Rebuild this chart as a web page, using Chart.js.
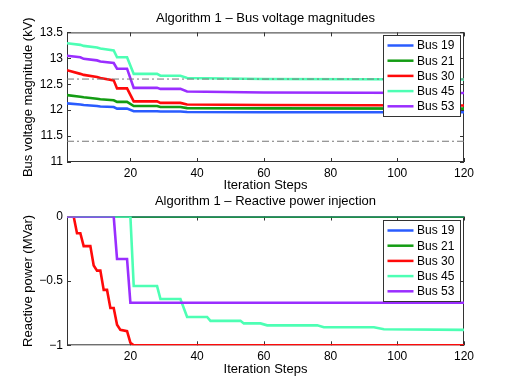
<!DOCTYPE html>
<html>
<head>
<meta charset="utf-8">
<script src="https://cdn.jsdelivr.net/npm/chart.js@4.4.0/dist/chart.umd.min.js"></script>
<style>
  html, body { margin: 0; padding: 0; background: #fff; }
  #wrap { position: relative; width: 512px; height: 389px; }
  canvas { position: absolute; left: 0; }
  #c-volt { top: 0; }
  #c-q    { top: 194px; }
</style>
</head>
<body>
<div id="wrap">
  <canvas id="c-volt" width="512" height="194"></canvas>
  <canvas id="c-q" width="512" height="195"></canvas>
</div>
<script>
// ── DATA ───────────────────────────────────────────────────────────────────

const BUSES = ['Bus 19', 'Bus 21', 'Bus 30', 'Bus 45', 'Bus 53'];

// Voltage magnitudes (kV) — corner points of the step curves
const vSteps = [1, 5, 6, 10, 11, 15, 16, 19, 21, 28, 29, 35, 37, 60, 120];
const vBus19 = [12.13, 12.11, 12.10, 12.08, 12.07, 12.06, 12.03, 12.03, 11.98, 11.98, 11.975, 11.975, 11.965, 11.96, 11.96];
const vBus21 = [12.29, 12.26, 12.25, 12.22, 12.21, 12.19, 12.16, 12.16, 12.08, 12.08, 12.06, 12.06, 12.04, 12.035, 12.03];
const vBus30 = [12.77, 12.70, 12.68, 12.64, 12.62, 12.575, 12.42, 12.42, 12.17, 12.17, 12.14, 12.14, 12.11, 12.10, 12.09];
const vBus45 = [13.29, 13.26, 13.24, 13.21, 13.19, 13.15, 13.02, 13.02, 12.70, 12.70, 12.665, 12.665, 12.62, 12.60, 12.59];
const vBus53 = [13.05, 13.02, 12.99, 12.96, 12.94, 12.91, 12.80, 12.80, 12.43, 12.43, 12.41, 12.41, 12.36, 12.34, 12.33];
const vLimits = [11.4, 12.6];

// Reactive power injection (MVar)
const qStepsFlat  = [1, 120];
const qBus19      = [0, 0];
const qBus21      = [0, 0];
const qStepsBus30 = [1, 3, 4, 5, 6, 8, 9, 10, 11, 12, 13, 14, 15, 16, 17, 19, 20, 21, 120];
const qBus30      = [0, 0, -0.13, -0.13, -0.23, -0.23, -0.38, -0.42, -0.42, -0.57, -0.57, -0.71, -0.71, -0.84, -0.88, -0.89, -0.98, -1, -1];
const qStepsBus45 = [1, 20, 21, 28, 29, 35, 37, 43, 44, 53, 54, 59, 61, 76, 78, 93, 96, 120];
const qBus45      = [0, 0, -0.54, -0.54, -0.64, -0.64, -0.78, -0.78, -0.81, -0.81, -0.83, -0.83, -0.845, -0.845, -0.86, -0.86, -0.875, -0.88];
const qStepsBus53 = [1, 15, 16, 19, 20, 120];
const qBus53      = [0, 0, -0.33, -0.33, -0.67, -0.67];

// Axis ticks
const xTicks     = [20, 40, 60, 80, 100, 120];
const vTicks     = [11, 11.5, 12, 12.5, 13, 13.5];
const qTicks     = [-1, -0.5, 0];

// ── STYLE ──────────────────────────────────────────────────────────────────

const BUS_COLORS = ['#2a5cff', '#139c13', '#ff0a0a', '#4dffb4', '#9a2eff'];
const AXIS_COLOR = '#333333';
const LIMIT_COLOR = '#777777';
const FONT_FAMILY = '"Liberation Sans", Arial, Helvetica, sans-serif';
const TICK_STYLE = { color: '#000', font: { family: FONT_FAMILY, size: 12 }, padding: 4 };
const LABEL_FONT = { family: FONT_FAMILY, size: 13, weight: 'normal' };

let cVolt = null;
let cQ    = null;

const pts = (xs, ys) => xs.map((x, i) => ({ x, y: ys[i] }));
const fmtTick = v => String(v).replace('-', '\u2212');

// ── PLUGINS ────────────────────────────────────────────────────────────────

// MATLAB-ish axes box with inward tick marks on all four sides
const boxPlugin = {
  id: 'matlabBox',
  beforeDatasetsDraw(chart) {
    const { ctx, chartArea: a, scales: { x, y } } = chart;
    const tl = 4;
    ctx.save();
    ctx.strokeStyle = AXIS_COLOR;
    ctx.lineWidth = 1;
    ctx.strokeRect(a.left + 0.5, a.top + 0.5, a.right - a.left - 1, a.bottom - a.top - 1);
    ctx.beginPath();
    x.ticks.forEach(t => {
      const px = Math.round(x.getPixelForValue(t.value)) + 0.5;
      ctx.moveTo(px, a.bottom); ctx.lineTo(px, a.bottom - tl);
      ctx.moveTo(px, a.top);    ctx.lineTo(px, a.top + tl);
    });
    y.ticks.forEach(t => {
      const py = Math.round(y.getPixelForValue(t.value)) + 0.5;
      ctx.moveTo(a.left, py);  ctx.lineTo(a.left + tl, py);
      ctx.moveTo(a.right, py); ctx.lineTo(a.right - tl, py);
    });
    ctx.stroke();
    ctx.restore();
  },
};

// Boxed legend in the top-right corner of the plot area
const legendPlugin = {
  id: 'busLegend',
  afterDatasetsDraw(chart) {
    const { ctx, chartArea: a } = chart;
    const w = 77, h = 81;
    const x0 = Math.round(a.right - 4 - w), y0 = Math.round(a.top + 3);
    ctx.save();
    ctx.fillStyle = '#fff';
    ctx.fillRect(x0, y0, w, h);
    ctx.strokeStyle = AXIS_COLOR;
    ctx.lineWidth = 1;
    ctx.strokeRect(x0 + 0.5, y0 + 0.5, w, h);
    ctx.font = `12px ${FONT_FAMILY}`;
    ctx.textBaseline = 'middle';
    BUSES.forEach((name, i) => {
      const yy = y0 + 10.5 + i * 15.2;
      ctx.strokeStyle = BUS_COLORS[i];
      ctx.lineWidth = 2.5;
      ctx.beginPath();
      ctx.moveTo(x0 + 4.5, yy);
      ctx.lineTo(x0 + 30.5, yy);
      ctx.stroke();
      ctx.fillStyle = '#000';
      ctx.fillText(name, x0 + 34, yy + 0.5);
    });
    ctx.restore();
  },
};

// ── BUILDERS ───────────────────────────────────────────────────────────────

function busDataset(i, data) {
  return {
    label: BUSES[i],
    data,
    borderColor: BUS_COLORS[i],
    borderWidth: 2.6,
    pointRadius: 0,
    tension: 0,
    fill: false,
    order: 10 - i,   // later buses drawn on top, like MATLAB
  };
}

function limitDataset(v) {
  return {
    label: 'limit',
    data: pts([1, 120], [v, v]),
    borderColor: LIMIT_COLOR,
    borderWidth: 1,
    borderDash: [7, 3, 2, 3],
    pointRadius: 0,
    order: 0,
  };
}

function baseOptions({ title, titlePad, yTitle, yMin, yMax, yTickVals, xHeight, xTitlePad }) {
  return {
    responsive: false,
    animation: false,
    layout: { padding: { left: 0, right: 48, top: 0, bottom: 0 } },
    plugins: {
      legend:  { display: false },
      tooltip: { enabled: false },
      title: {
        display: true,
        fullSize: false,   // centre over the plot area, not the canvas
        text: title,
        color: '#000',
        font: LABEL_FONT,
        padding: titlePad,
      },
    },
    scales: {
      x: {
        type: 'linear',
        min: 1, max: 120,
        grid: { display: false, drawTicks: false },
        border: { display: false },
        ticks: { ...TICK_STYLE, maxRotation: 0 },
        afterBuildTicks: s => { s.ticks = xTicks.map(value => ({ value })); },
        afterFit: s => { s.height = xHeight; },
        title: {
          display: true,
          text: 'Iteration Steps',
          color: '#000',
          font: LABEL_FONT,
          padding: { top: 0, bottom: xTitlePad },
        },
      },
      y: {
        type: 'linear',
        min: yMin, max: yMax,
        grid: { display: false, drawTicks: false },
        border: { display: false },
        ticks: { ...TICK_STYLE, callback: fmtTick },
        afterBuildTicks: s => { s.ticks = yTickVals.map(value => ({ value })); },
        afterFit: s => { s.width = 67; },
        title: {
          display: true,
          text: yTitle,
          color: '#000',
          font: LABEL_FONT,
          padding: { top: 21, bottom: 0 },
        },
      },
    },
  };
}

function buildVoltChart() {
  if (cVolt) cVolt.destroy();
  cVolt = new Chart(document.getElementById('c-volt'), {
    type: 'line',
    data: {
      datasets: [
        busDataset(0, pts(vSteps, vBus19)),
        busDataset(1, pts(vSteps, vBus21)),
        busDataset(2, pts(vSteps, vBus30)),
        busDataset(3, pts(vSteps, vBus45)),
        busDataset(4, pts(vSteps, vBus53)),
        ...vLimits.map(limitDataset),
      ],
    },
    options: baseOptions({
      title: 'Algorithm 1 \u2013 Bus voltage magnitudes',
      titlePad: { top: 10.2, bottom: 6.6 },
      yTitle: 'Bus voltage magnitude (kV)',
      yMin: 11, yMax: 13.5, yTickVals: vTicks,
      xHeight: 32, xTitlePad: 1.2,
    }),
    plugins: [boxPlugin, legendPlugin],
  });
}

function buildQChart() {
  if (cQ) cQ.destroy();
  cQ = new Chart(document.getElementById('c-q'), {
    type: 'line',
    data: {
      datasets: [
        busDataset(0, pts(qStepsFlat, qBus19)),
        busDataset(1, pts(qStepsFlat, qBus21)),
        busDataset(2, pts(qStepsBus30, qBus30)),
        busDataset(3, pts(qStepsBus45, qBus45)),
        busDataset(4, pts(qStepsBus53, qBus53)),
      ],
    },
    options: baseOptions({
      title: 'Algorithm 1 \u2013 Reactive power injection',
      titlePad: { top: 0, bottom: 6.9 },
      yTitle: 'Reactive power (MVar)',
      yMin: -1, yMax: 0, yTickVals: qTicks,
      xHeight: 43.7, xTitlePad: 11.9,
    }),
    plugins: [boxPlugin, legendPlugin],
  });
}

buildVoltChart();
buildQChart();
</script>
</body>
</html>
